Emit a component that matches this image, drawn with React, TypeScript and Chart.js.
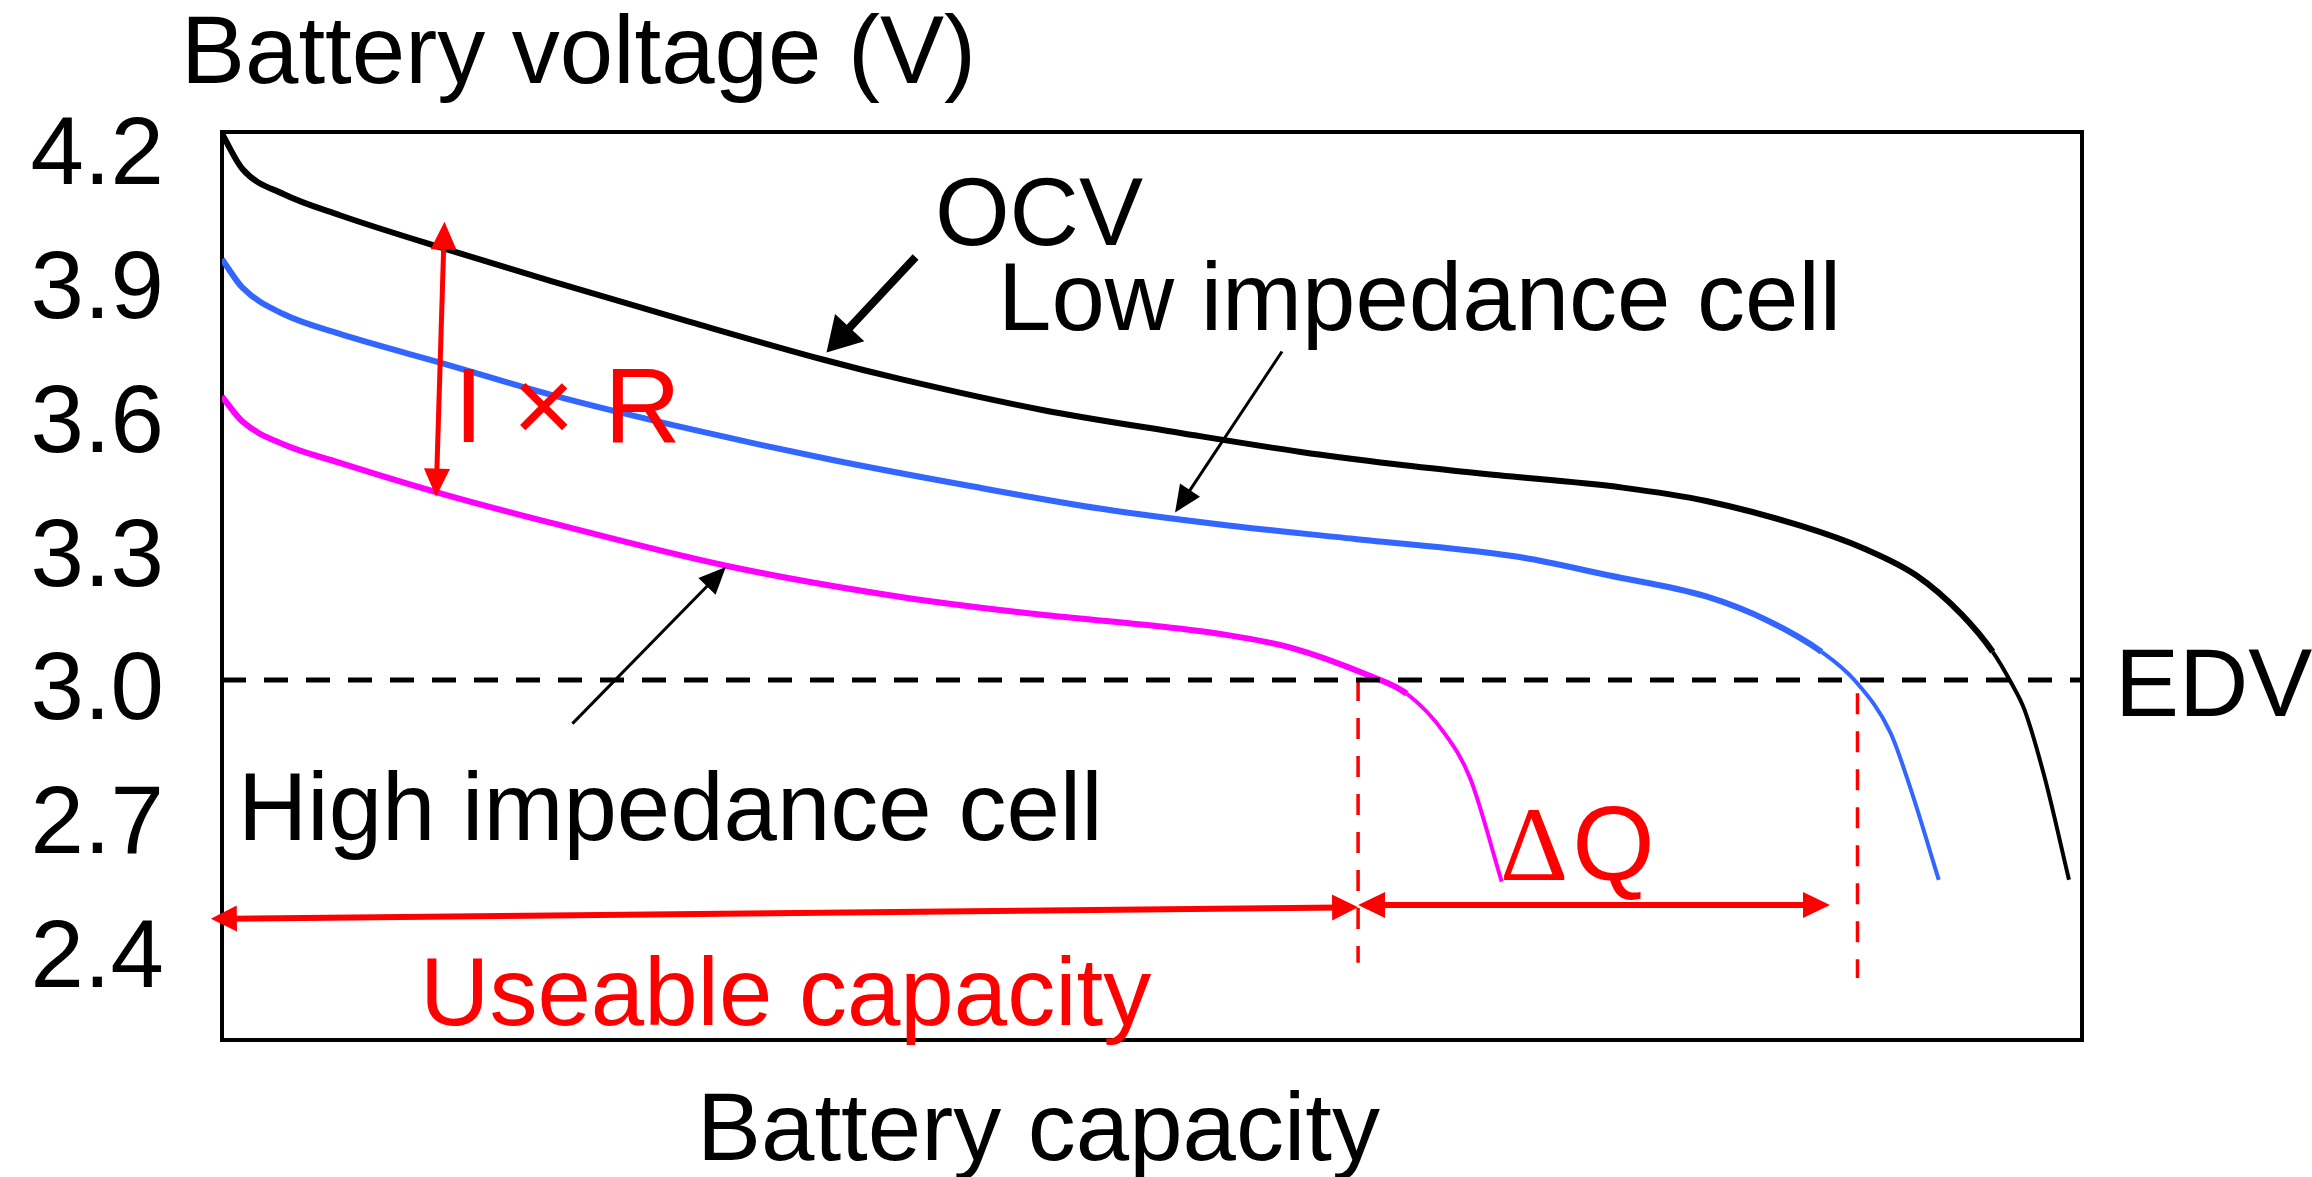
import React, { useEffect, useRef } from 'react';
import { Chart, registerables } from 'chart.js';

Chart.register(...registerables);

const FONT = '"Liberation Sans", Arial, Helvetica, sans-serif';
const SERIF = '"Liberation Serif", "Times New Roman", serif';

// Y-axis tick labels (V)
const yTicks = [2.4, 2.7, 3.0, 3.3, 3.6, 3.9, 4.2];

// OCV curve: capacity (% of axis) and voltage (V)
const ocvCap = [0, 1.1, 3.3, 6.3, 12.0, 17.7, 25.2, 32.4, 36.5, 44.1, 51.6, 58.0, 63.0, 67.8, 75.3, 79.8, 84.9, 88.3, 91.1, 93.5, 95.2, 96.2, 96.9, 98.0, 99.3];
const ocvV = [4.224, 4.145, 4.089, 4.042, 3.966, 3.894, 3.802, 3.717, 3.674, 3.605, 3.553, 3.511, 3.484, 3.462, 3.431, 3.401, 3.345, 3.294, 3.234, 3.148, 3.063, 2.993, 2.934, 2.78, 2.552];

// Low impedance cell
const lowCap = [0, 1.1, 3.3, 6.3, 12.0, 17.7, 25.2, 32.7, 40.3, 47.2, 54.1, 60.9, 69.5, 74.6, 79.8, 83.2, 86.0, 87.8, 89.7, 90.8, 92.3];
const lowV = [3.943, 3.879, 3.82, 3.776, 3.708, 3.639, 3.562, 3.494, 3.434, 3.384, 3.346, 3.316, 3.277, 3.234, 3.187, 3.131, 3.063, 2.998, 2.882, 2.754, 2.552];

// High impedance cell
const highCap = [0, 1.1, 3.3, 6.3, 11.6, 17.7, 27.1, 36.5, 44.1, 50.0, 54.0, 57.5, 61.6, 63.7, 65.7, 67.1, 68.8];
const highV = [3.635, 3.579, 3.528, 3.487, 3.42, 3.352, 3.256, 3.186, 3.146, 3.122, 3.101, 3.072, 3.011, 2.969, 2.882, 2.78, 2.548];

// EDV line
const edvCap = [0, 100];
const edvV = [3.0, 3.0];

// Capacity markers (red dashed verticals)
const highEdvCap = [61.08, 61.08];
const highEdvV = [3.0, 2.366];
const lowEdvCap = [87.93, 87.93];
const lowEdvV = [2.97, 2.332];

const pts = (xs: number[], ys: number[]) => xs.map((x, i) => ({ x, y: ys[i] }));

type Arrow = { from: [number, number]; to: [number, number]; color: string; width: number; head: number; half: number; both?: boolean };

const arrows: Arrow[] = [
  { from: [37.29, 3.948], to: [32.5, 3.734], color: '#000000', width: 8, head: 34, half: 20 },
  { from: [56.99, 3.736], to: [51.24, 3.375], color: '#000000', width: 3, head: 27, half: 12 },
  { from: [18.84, 2.902], to: [27.09, 3.253], color: '#000000', width: 3, head: 27, half: 12 },
  { from: [11.51, 3.4107], to: [11.96, 4.0269], color: '#ff0000', width: 5, head: 28, half: 13, both: true },
  { from: [-0.6, 2.4645], to: [61.08, 2.4903], color: '#ff0000', width: 6, head: 26, half: 13, both: true },
  { from: [61.08, 2.4958], to: [86.45, 2.4958], color: '#ff0000', width: 6, head: 27, half: 13, both: true },
];

type Label = { text: string; x: number; y: number; color: string; size: number };

const labels: Label[] = [
  { text: 'OCV', x: 38.33, y: 3.9754, color: '#000000', size: 96 },
  { text: 'Low impedance cell', x: 41.72, y: 3.7851, color: '#000000', size: 96 },
  { text: 'High impedance cell', x: 0.86, y: 2.6415, color: '#000000', size: 96 },
  { text: 'Useable capacity', x: 10.65, y: 2.227, color: '#ff0000', size: 96 },
  { text: 'EDV', x: 101.77, y: 2.9193, color: '#000000', size: 96 },
  { text: 'I × R', x: 12.47, y: 3.534, color: '#ff0000', size: 106 },
];

// ΔQ label: Δ in a serif face, Q in sans
const deltaQ = { x: 68.71, y: 2.5519, color: '#ff0000', size: 106 };

function drawHead(ctx: CanvasRenderingContext2D, x: number, y: number, ang: number, len: number, half: number) {
  const bx = x - Math.cos(ang) * len;
  const by = y - Math.sin(ang) * len;
  const px = -Math.sin(ang) * half;
  const py = Math.cos(ang) * half;
  ctx.beginPath();
  ctx.moveTo(x, y);
  ctx.lineTo(bx + px, by + py);
  ctx.lineTo(bx - px, by - py);
  ctx.closePath();
  ctx.fill();
}

const annotationPlugin = {
  id: 'annotations',
  beforeDatasetsDraw(chart: any) {
    const { ctx, chartArea: ca } = chart;
    ctx.save();
    ctx.strokeStyle = '#000000';
    ctx.lineWidth = 4;
    ctx.strokeRect(ca.left, ca.top, ca.right - ca.left, ca.bottom - ca.top);
    ctx.restore();
  },
  afterDatasetsDraw(chart: any) {
    const { ctx, scales } = chart;
    const xs = scales.x;
    const ys = scales.y;
    ctx.save();
    arrows.forEach((a) => {
      const x1 = xs.getPixelForValue(a.from[0]);
      const y1 = ys.getPixelForValue(a.from[1]);
      const x2 = xs.getPixelForValue(a.to[0]);
      const y2 = ys.getPixelForValue(a.to[1]);
      const ang = Math.atan2(y2 - y1, x2 - x1);
      const c = Math.cos(ang);
      const s = Math.sin(ang);
      ctx.strokeStyle = a.color;
      ctx.fillStyle = a.color;
      ctx.lineWidth = a.width;
      ctx.lineCap = 'butt';
      const k = a.head * 0.7;
      const sx = a.both ? x1 + c * k : x1;
      const sy = a.both ? y1 + s * k : y1;
      ctx.beginPath();
      ctx.moveTo(sx, sy);
      ctx.lineTo(x2 - c * k, y2 - s * k);
      ctx.stroke();
      drawHead(ctx, x2, y2, ang, a.head, a.half);
      if (a.both) drawHead(ctx, x1, y1, ang + Math.PI, a.head, a.half);
    });
    ctx.textAlign = 'left';
    ctx.textBaseline = 'alphabetic';
    labels.forEach((l) => {
      ctx.font = `${l.size}px ${FONT}`;
      ctx.fillStyle = l.color;
      ctx.fillText(l.text, xs.getPixelForValue(l.x), ys.getPixelForValue(l.y));
    });
    // ΔQ
    {
      const px = xs.getPixelForValue(deltaQ.x);
      const py = ys.getPixelForValue(deltaQ.y);
      ctx.fillStyle = deltaQ.color;
      ctx.font = `${deltaQ.size}px ${SERIF}`;
      ctx.fillText('Δ', px, py);
      const w = ctx.measureText('Δ').width;
      ctx.font = `${deltaQ.size}px ${FONT}`;
      ctx.fillText('Q', px + w + 4, py);
    }
    // axis titles
    ctx.font = `96px ${FONT}`;
    ctx.fillStyle = '#000000';
    ctx.fillText('Battery voltage (V)', 181, 83);
    ctx.fillText('Battery capacity', 697, 1160);
    ctx.restore();
  },
};

export default function App() {
  const ref = useRef<HTMLCanvasElement | null>(null);

  useEffect(() => {
    if (!ref.current) return;
    const curve = (label: string, xs: number[], ys: number[], color: string, thinFrom: number) => ({
      label,
      data: pts(xs, ys),
      borderColor: color,
      borderWidth: 6,
      pointRadius: 0,
      fill: false,
      cubicInterpolationMode: 'monotone' as const,
      segment: {
        borderWidth: (c: any) => (c.p0 && c.p0.parsed && c.p0.parsed.x >= thinFrom ? 4 : 6),
      },
    });
    const straight = (label: string, xs: number[], ys: number[], color: string, width: number, dash: number[]) => ({
      label,
      data: pts(xs, ys),
      borderColor: color,
      borderWidth: width,
      borderDash: dash,
      pointRadius: 0,
      fill: false,
      tension: 0,
    });

    const chart = new Chart(ref.current, {
      type: 'line',
      data: {
        datasets: [
          straight('EDV', edvCap, edvV, '#000000', 5, [24, 18]),
          straight('High EDV capacity', highEdvCap, highEdvV, '#ff0000', 3.5, [21, 17]),
          straight('Low EDV capacity', lowEdvCap, lowEdvV, '#ff0000', 3.5, [21, 17]),
          curve('High impedance cell', highCap, highV, '#ff00ff', 63.5),
          curve('Low impedance cell', lowCap, lowV, '#3366ff', 86),
          curve('OCV', ocvCap, ocvV, '#000000', 95),
        ],
      },
      options: {
        responsive: false,
        animation: false,
        devicePixelRatio: 1,
        layout: { padding: { left: 0, right: 230, top: 132, bottom: 0 } },
        plugins: { legend: { display: false }, tooltip: { enabled: false }, title: { display: false } },
        scales: {
          x: {
            type: 'linear',
            min: 0,
            max: 100,
            ticks: { display: false },
            grid: { display: false, drawTicks: false },
            border: { display: false },
            afterFit: (s: any) => {
              s.height = 137;
            },
          },
          y: {
            type: 'linear',
            min: 2.193,
            max: 4.228,
            afterBuildTicks: (s: any) => {
              s.ticks = yTicks.map((v) => ({ value: v }));
            },
            afterFit: (s: any) => {
              s.width = 222;
            },
            grid: { display: false, drawTicks: false },
            border: { display: false },
            ticks: {
              font: { family: FONT, size: 96 },
              color: '#000000',
              padding: 58,
              labelOffset: 13,
              callback: (v: any) => Number(v).toFixed(1),
            },
          },
        },
      },
      plugins: [annotationPlugin],
    } as any);
    return () => chart.destroy();
  }, []);

  return (
    <div style={{ position: 'fixed', left: 0, top: 0, width: 2312, height: 1177, background: '#ffffff' }}>
      <canvas ref={ref} width={2312} height={1177} style={{ display: 'block', width: 2312, height: 1177 }} />
    </div>
  );
}
